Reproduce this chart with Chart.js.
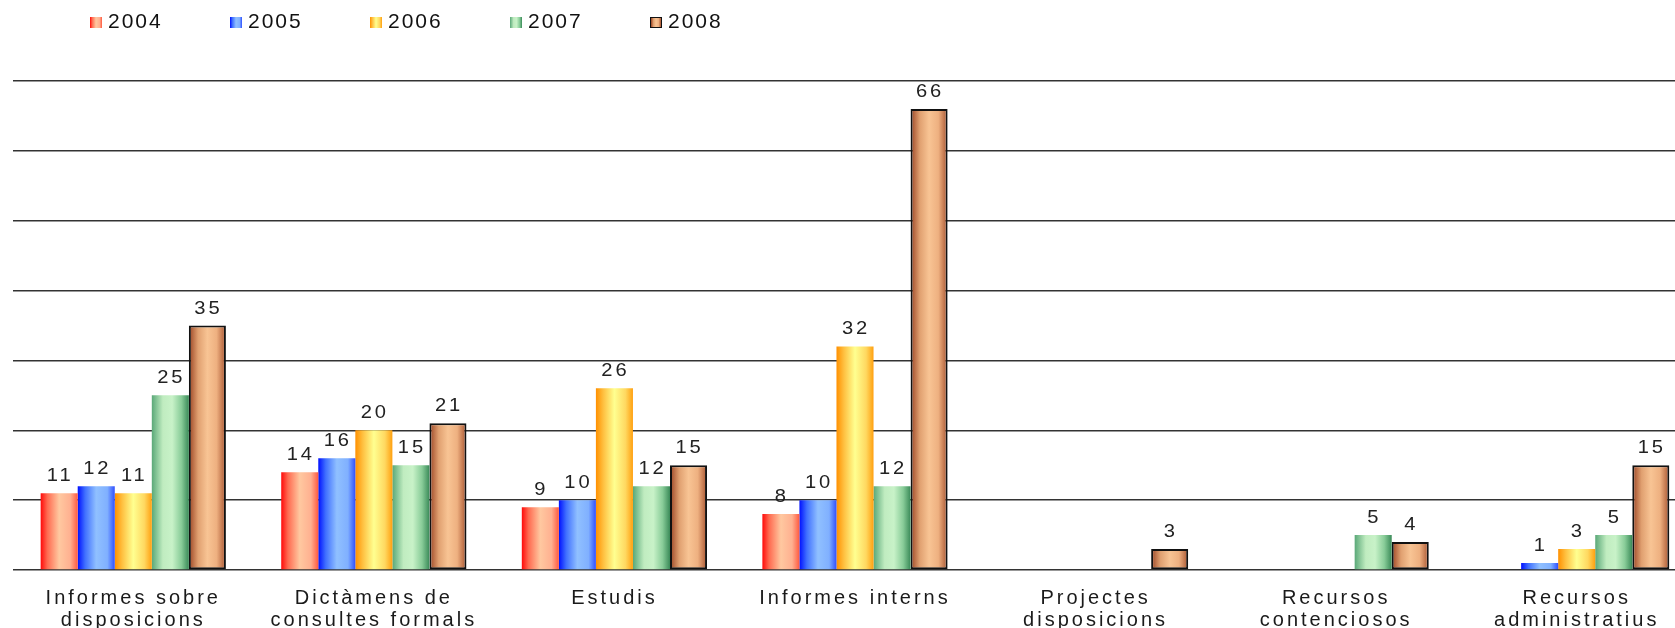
<!DOCTYPE html>
<html>
<head>
<meta charset="utf-8">
<script src="https://cdn.jsdelivr.net/npm/chart.js@4.4.1/dist/chart.umd.min.js"></script>
<style>
  html, body { margin: 0; padding: 0; background: #fff; overflow: hidden; }
  #wrap { position: absolute; left: 0; top: 0; width: 1697px; height: 640px; }
  #legend { position: absolute; left: 90px; top: 9px; display: flex; font-family: "Liberation Sans", Arial, sans-serif; font-size: 21px; letter-spacing: 2px; color: #111; z-index: 2; }
  #legend .item { display: flex; align-items: center; width: 140px; }
  #legend .box { width: 12px; height: 11px; box-sizing: border-box; margin-right: 6px; margin-top: 3px; }
</style>
</head>
<body>
<div id="legend"></div>
<div id="wrap"><canvas id="chart"></canvas></div>
<script>
  'use strict';

  var CATEGORIES = [
    ['Informes sobre', 'disposicions'],
    ['Dictàmens de', 'consultes formals'],
    'Estudis',
    'Informes interns',
    ['Projectes', 'disposicions'],
    ['Recursos', 'contenciosos'],
    ['Recursos', 'administratius'],
  ];

  var YEARS = ['2004', '2005', '2006', '2007', '2008'];

  var VALUES_2004 = [11, 14, 9, 8, null, null, null];
  var VALUES_2005 = [12, 16, 10, 10, null, null, 1];
  var VALUES_2006 = [11, 20, 26, 32, null, null, 3];
  var VALUES_2007 = [25, 15, 12, 12, null, 5, 5];
  var VALUES_2008 = [35, 21, 15, 66, 3, 4, 15];

  var Y_MAX = 70;
  var Y_STEP = 10;

  // horizontal shading of each series (left edge -> right edge)
  var SHADES = {
    '2004': [[0, '#ff0a0a'], [0.18, '#ff6a50'], [0.5, '#ffc8a0'], [0.8, '#ffb090'], [1, '#ff5a40']],
    '2005': [[0, '#0010ff'], [0.2, '#4070ff'], [0.5, '#90c0ff'], [0.8, '#80b0ff'], [1, '#3050ff']],
    '2006': [[0, '#ff9000'], [0.2, '#ffc040'], [0.5, '#ffff90'], [0.8, '#ffd860'], [1, '#ffa010']],
    '2007': [[0, '#5aa878'], [0.3, '#c0ecc0'], [0.55, '#c8f2c8'], [0.8, '#88cc98'], [1, '#3a8a58']],
    '2008': [[0, '#9a4424'], [0.25, '#e0a070'], [0.5, '#f8c494'], [0.75, '#eeb080'], [1, '#a85430']],
  };
  var BASE = { '2004': '#ff8060', '2005': '#6090ff', '2006': '#ffd040', '2007': '#90d0a0', '2008': '#e0a070' };

  var SERIES = [VALUES_2004, VALUES_2005, VALUES_2006, VALUES_2007, VALUES_2008];

  /* ---- legend (html) ---- */
  function cssGradient(year) {
    return 'linear-gradient(to right, ' + SHADES[year].map(function (s) {
      return s[1] + ' ' + (s[0] * 100) + '%';
    }).join(', ') + ')';
  }

  var legendEl = document.getElementById('legend');
  YEARS.forEach(function (y) {
    var item = document.createElement('div');
    item.className = 'item';
    var box = document.createElement('span');
    box.className = 'box';
    box.style.background = cssGradient(y);
    if (y === '2008') box.style.border = '1.5px solid #111';
    var txt = document.createElement('span');
    txt.textContent = y;
    item.appendChild(box);
    item.appendChild(txt);
    legendEl.appendChild(item);
  });

  /* ---- plugins ---- */
  var shadePlugin = {
    id: 'shade',
    beforeDraw: function (chart) {
      chart.ctx.letterSpacing = '3px';
    },
    beforeDatasetsDraw: function (chart) {
      var ctx = chart.ctx;
      chart.data.datasets.forEach(function (ds, i) {
        var meta = chart.getDatasetMeta(i);
        meta.data.forEach(function (el) {
          if (el.x == null || !el.width) return;
          var l = el.x - el.width / 2;
          var g = ctx.createLinearGradient(l, 0, l + el.width, 0);
          SHADES[ds.label].forEach(function (s) { g.addColorStop(s[0], s[1]); });
          el.options.backgroundColor = g;
        });
      });
    },
    afterDatasetsDraw: function (chart) {
      var ctx = chart.ctx;
      ctx.save();
      ctx.letterSpacing = '2.5px';
      ctx.font = '17.5px "Liberation Sans", Arial, sans-serif';
      ctx.fillStyle = '#222';
      ctx.textAlign = 'center';
      ctx.textBaseline = 'alphabetic';
      chart.data.datasets.forEach(function (ds, i) {
        var meta = chart.getDatasetMeta(i);
        meta.data.forEach(function (el, j) {
          var v = ds.data[j];
          if (v == null) return;
          ctx.save();
          ctx.translate(el.x + 1, el.y - 12);
          ctx.scale(1.15, 1);   // source labels are drawn wide
          ctx.fillText(String(v), 0, 0);
          ctx.restore();
        });
      });
      ctx.restore();
    },
  };

  var datasets = YEARS.map(function (y, i) {
    return {
      label: y,
      data: SERIES[i],
      backgroundColor: function () { return BASE[y]; },
      borderColor: '#111',
      borderWidth: y === '2008' ? 2 : 0,
      borderSkipped: false,
      categoryPercentage: 0.77,
      barPercentage: 1.0,
    };
  });

  new Chart(document.getElementById('chart'), {
    type: 'bar',
    data: { labels: CATEGORIES, datasets: datasets },
    plugins: [shadePlugin],
    options: {
      responsive: true,
      maintainAspectRatio: false,
      animation: false,
      layout: { padding: { left: 13, top: 81, right: 0, bottom: 0 } },
      plugins: {
        legend: { display: false },
        tooltip: { enabled: false },
      },
      scales: {
        x: {
          grid: { display: false },
          border: { display: false },
          ticks: {
            autoSkip: false,
            maxRotation: 0,
            padding: 9,
            color: '#1a1a1a',
            font: { family: '"Liberation Sans", Arial, sans-serif', size: 20, lineHeight: 1.1 },
          },
          afterFit: function (s) { s.height = 70; },
        },
        y: {
          min: 0,
          max: Y_MAX,
          ticks: { display: false, stepSize: Y_STEP },
          grid: { color: '#333', lineWidth: 1.5, drawTicks: false },
          border: { display: false },
          afterFit: function (s) { s.width = 0; },
        },
      },
    },
  });
</script>
</body>
</html>
